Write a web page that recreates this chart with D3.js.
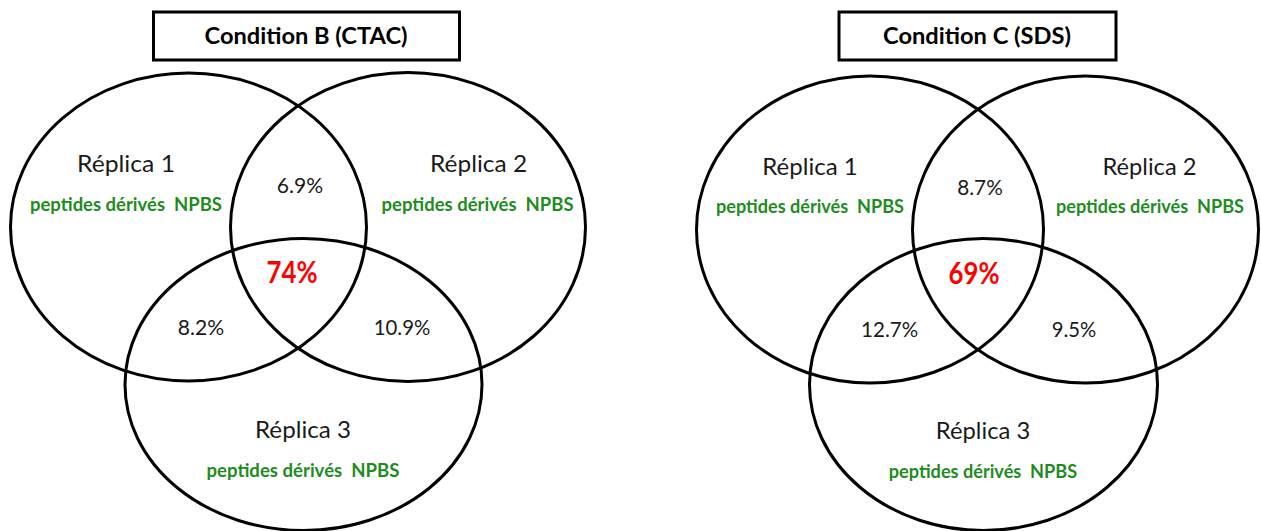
<!DOCTYPE html>
<html>
<head>
<meta charset="utf-8">
<script src="https://cdn.jsdelivr.net/npm/d3@7"></script>
<style>
html,body{margin:0;padding:0;background:#fff;}
svg{display:block;}
text{white-space:pre;}
</style>
</head>
<body>
<svg id="chart" width="1261" height="531"></svg>
<script>
// ---- data ----
const conditions = ["Condition B (CTAC)", "Condition C (SDS)"];
const replicas = ["Réplica 1", "Réplica 2", "Réplica 3"];
const subLabel = "peptides dérivés  NPBS";
const overlap12 = ["6.9%", "8.7%"];
const overlap13 = ["8.2%", "12.7%"];
const overlap23 = ["10.9%", "9.5%"];
const overlapAll = ["74%", "69%"];

// ---- layout (pixel geometry) ----
const layout = [
  {
    box: {x: 153.5, y: 12, w: 306, h: 48}, title: {x: 306, y: 44.3, w: 203},
    circles: [{cx: 188.5, cy: 227, rx: 178, ry: 154}, {cx: 408, cy: 227, rx: 177.5, ry: 154.5}, {cx: 303.5, cy: 384.5, rx: 178.5, ry: 146}],
    rep: [{x: 126, y: 172.3, w: 98}, {x: 478.6, y: 172.3, w: 97}, {x: 303, y: 438.3, w: 96}],
    sub: [{x: 126, y: 210.7, w: 192}, {x: 477.6, y: 210.7, w: 192}, {x: 303, y: 476.7, w: 193}],
    o12: {x: 300, y: 193.3, w: 46.4}, o13: {x: 201, y: 335, w: 46.4}, o23: {x: 402, y: 335, w: 56.5}, all: {x: 292, y: 283.3, w: 51}
  },
  {
    box: {x: 839, y: 12, w: 277, h: 48}, title: {x: 977, y: 44.3, w: 188},
    circles: [{cx: 870, cy: 229.5, rx: 173.5, ry: 153.5}, {cx: 1085.5, cy: 229.5, rx: 173, ry: 153.5}, {cx: 983.5, cy: 384.5, rx: 174, ry: 146}],
    rep: [{x: 810, y: 175, w: 95.6}, {x: 1149.5, y: 175, w: 94}, {x: 983, y: 439, w: 94.5}],
    sub: [{x: 810, y: 213.3, w: 188}, {x: 1150, y: 213.3, w: 188}, {x: 983, y: 477.7, w: 188.5}],
    o12: {x: 980, y: 195, w: 45.6}, o13: {x: 889.6, y: 336.7, w: 57}, o23: {x: 1074, y: 336.7, w: 44.5}, all: {x: 974, y: 284.3, w: 51}
  }
];

const FONT = "Lato, 'Open Sans', sans-serif";
const svg = d3.select("#chart");

function addText(g, pos, str, size, weight, color) {
  g.append("text")
    .attr("x", pos.x).attr("y", pos.y)
    .attr("text-anchor", "middle")
    .attr("xml:space", "preserve")
    .attr("font-family", FONT)
    .attr("font-size", size)
    .attr("font-weight", weight)
    .attr("fill", color)
    .attr("textLength", pos.w)
    .attr("lengthAdjust", "spacingAndGlyphs")
    .text(str);
}

conditions.forEach((cond, i) => {
  const L = layout[i];
  const g = svg.append("g");

  // title box
  g.append("rect")
    .attr("x", L.box.x).attr("y", L.box.y)
    .attr("width", L.box.w).attr("height", L.box.h)
    .attr("fill", "#fff").attr("stroke", "#000").attr("stroke-width", 3);
  addText(g, L.title, cond, 22, "bold", "#000");

  // circles
  g.selectAll("ellipse").data(L.circles).join("ellipse")
    .attr("cx", d => d.cx).attr("cy", d => d.cy)
    .attr("rx", d => d.rx).attr("ry", d => d.ry)
    .attr("fill", "none").attr("stroke", "#000").attr("stroke-width", 3);

  replicas.forEach((r, k) => {
    addText(g, L.rep[k], r, 23.5, "normal", "#1a1a1a");
    addText(g, L.sub[k], subLabel, 18.5, "bold", "#1e8c1e");
  });

  addText(g, L.o12, overlap12[i], 21, "normal", "#1a1a1a");
  addText(g, L.o13, overlap13[i], 21, "normal", "#1a1a1a");
  addText(g, L.o23, overlap23[i], 21, "normal", "#1a1a1a");
  addText(g, L.all, overlapAll[i], 31, "bold", "#ff0000");
});
</script>
</body>
</html>
